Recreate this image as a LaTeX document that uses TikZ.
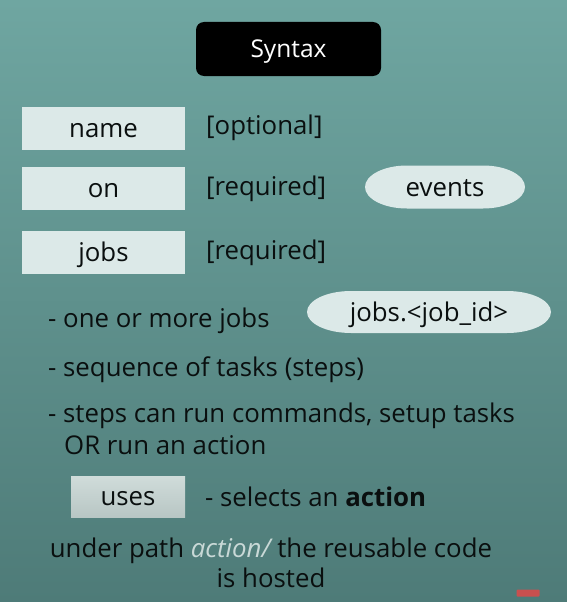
\documentclass[tikz,border=0pt]{standalone}
\usepackage{fontspec}
\setmainfont{Open Sans}
\definecolor{bgtop}{HTML}{6FA6A1}
\definecolor{bgbot}{HTML}{4E7B78}
\definecolor{boxfill}{HTML}{DCE9E8}
\definecolor{usestop}{HTML}{D0DCDA}
\definecolor{usesbot}{HTML}{B8C6C4}
\definecolor{ink}{HTML}{0A0F0F}
\definecolor{pathgray}{HTML}{C9D9D7}
\definecolor{badge}{HTML}{C9504F}
% flat-topped pill: centre x, centre y, width, height, end radius
\newcommand\pillshape[5]{%
  \fill[boxfill] ({#1-#3/2+#5},{#2-#4/2}) -- ({#1+#3/2-#5},{#2-#4/2})
    arc[start angle=-90, end angle=90, x radius=#5, y radius=#4/2]
    -- ({#1-#3/2+#5},{#2+#4/2})
    arc[start angle=90, end angle=270, x radius=#5, y radius=#4/2] -- cycle;}
\begin{document}
\begin{tikzpicture}[x=1pt,y=-1pt,
  every node/.style={font=\fontsize{25.8}{30}\selectfont, text=ink},
  keybox/.style={fill=boxfill, minimum width=163pt, minimum height=43pt, inner sep=0pt,
    text height=18pt, text depth=0pt},
  pilltext/.style={inner sep=0pt, text height=18pt, text depth=0pt},
  note/.style={anchor=west, inner sep=0pt}]
  % background
  \shade[top color=bgtop, bottom color=bgbot] (0,0) rectangle (567,602);
  \useasboundingbox (0,0) rectangle (567,602);

  % title
  \node[fill=black, rounded corners=8pt, minimum width=185pt, minimum height=54pt,
        inner sep=0pt, text height=17pt, text depth=0pt,
        text=white, font=\fontsize{24.5}{30}\selectfont] (title) at (288.5,49) {Syntax};

  % keys
  \node[keybox] (name) at (103.5,128) {name};
  \node[note] (opt) at (206,128) {[optional]};
  \node[keybox] (on) at (103.5,188.5) {on};
  \node[note] (req1) at (206,189) {[required]};
  \pillshape{445}{187}{160}{43}{42}
  \node[pilltext] (events) at (445,187) {events};
  \node[keybox] (jobs) at (103.5,252) {jobs};
  \node[note] (req2) at (206,253) {[required]};

  % jobs details
  \pillshape{429}{312}{244}{42}{44}
  \node[pilltext] (jobid) at (429,312) {jobs.<job\_id>};
  \node[note] (more) at (48,321) {- one or more jobs};
  \node[note] (seq) at (48,370) {- sequence of tasks (steps)};
  \node[note] (steps) at (48,416) {- steps can run commands, setup tasks};
  \node[note] (orrun) at (64,445) {OR run an action};

  % uses
  \node[top color=usestop, bottom color=usesbot, minimum width=114pt, minimum height=41pt,
        inner sep=0pt, text height=18pt, text depth=0pt] (uses) at (128,496.5) {uses};
  \node[note] (sel) at (205,497) {- selects an \textbf{action}};

  % footer
  \node[align=center, inner sep=0pt] (path) at (271,563)
    {under path \textcolor{pathgray}{\itshape action/} the reusable code\\is hosted};

  % badge
  \node[fill=badge, rounded corners=1pt, minimum width=23pt, minimum height=7pt,
        inner sep=0pt] (sub) at (528,593) {};
\end{tikzpicture}
\end{document}
